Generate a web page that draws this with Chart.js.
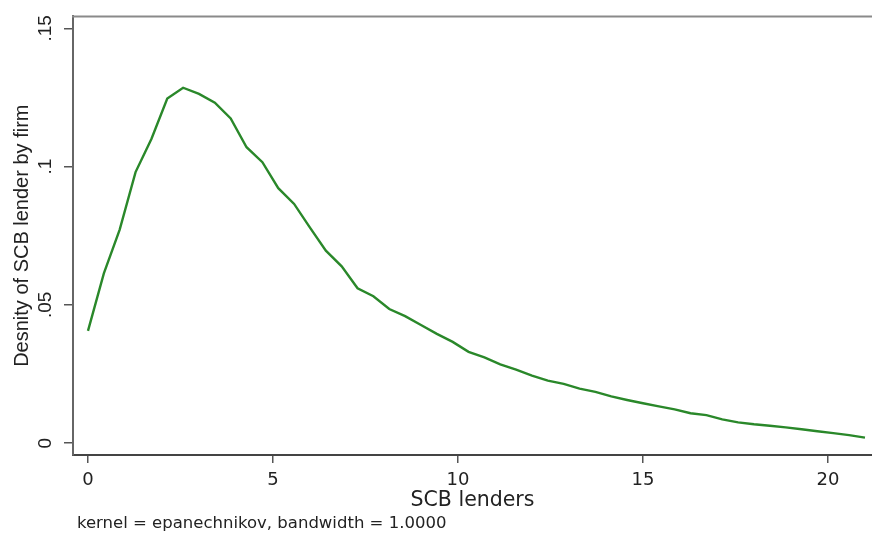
<!DOCTYPE html>
<html>
<head>
<meta charset="utf-8">
<script src="https://cdn.jsdelivr.net/npm/chart.js@4.4.1/dist/chart.umd.min.js"></script>
<style>
  html, body { margin: 0; padding: 0; background: #ffffff; }
  #wrap { width: 872px; height: 533px; }
</style>
</head>
<body>
<div id="wrap"><canvas id="kd" width="872" height="533"></canvas></div>
<script>
// Kernel density estimate of SCB lenders per firm (50 evaluation points)
const lenderGrid = [
  0.000, 0.429, 0.857, 1.286, 1.714, 2.143, 2.571, 3.000, 3.429, 3.857,
  4.286, 4.714, 5.143, 5.571, 6.000, 6.429, 6.857, 7.286, 7.714, 8.143,
  8.571, 9.000, 9.429, 9.857, 10.286, 10.714, 11.143, 11.571, 12.000, 12.429,
  12.857, 13.286, 13.714, 14.143, 14.571, 15.000, 15.429, 15.857, 16.286, 16.714,
  17.143, 17.571, 18.000, 18.429, 18.857, 19.286, 19.714, 20.143, 20.571, 21.000
];
const densityValues = [
  0.0406, 0.0614, 0.0772, 0.0980, 0.1100, 0.1246, 0.1285, 0.1263, 0.1231, 0.1174,
  0.1070, 0.1016, 0.0922, 0.0865, 0.0779, 0.0696, 0.0639, 0.0560, 0.0531, 0.0485,
  0.0459, 0.0427, 0.0395, 0.0366, 0.0330, 0.0310, 0.0285, 0.0266, 0.0244, 0.0226,
  0.0214, 0.0197, 0.0185, 0.0169, 0.0156, 0.0144, 0.0133, 0.0122, 0.0108, 0.0101,
  0.0086, 0.0075, 0.0068, 0.0063, 0.0057, 0.0050, 0.0043, 0.0036, 0.0029, 0.0020
];
const xTickValues = [0, 5, 10, 15, 20];
const xTickLabels = ['0', '5', '10', '15', '20'];
const yTickValues = [0, 0.05, 0.1, 0.15];
const yTickLabels = ['0', '.05', '.1', '.15'];

const xTitle = 'SCB lenders';
const yTitle = 'Desnity of SCB lender by firm';
const noteText = 'kernel = epanechnikov, bandwidth = 1.0000';

const points = lenderGrid.map((x, i) => ({ x: x, y: densityValues[i] }));

// outline along the top of the plot region and the kernel note under the x title
const framePlugin = {
  id: 'frameAndNote',
  afterDraw(chart) {
    const { ctx, chartArea } = chart;
    ctx.save();
    ctx.strokeStyle = '#8a8a8a';
    ctx.lineWidth = 2;
    ctx.beginPath();
    ctx.moveTo(chartArea.left - 1, chartArea.top);
    ctx.lineTo(chartArea.right, chartArea.top);
    ctx.stroke();

    ctx.fillStyle = '#222222';
    ctx.font = '16.5px "DejaVu Sans"';
    ctx.textAlign = 'left';
    ctx.textBaseline = 'middle';
    ctx.fillText(noteText, 77, 524);
    ctx.restore();
  }
};

new Chart(document.getElementById('kd'), {
  type: 'line',
  data: {
    datasets: [{
      data: points,
      borderColor: '#2a882a',
      borderWidth: 2.4,
      pointRadius: 0,
      tension: 0,
      fill: false
    }]
  },
  options: {
    responsive: false,
    animation: false,
    layout: { padding: { top: 13, right: 0, left: 0, bottom: 0 } },
    plugins: { legend: { display: false }, tooltip: { enabled: false } },
    scales: {
      x: {
        type: 'linear',
        min: -0.405,
        max: 21.19,
        afterFit(scale) { scale.height = 78; },
        afterBuildTicks(scale) { scale.ticks = xTickValues.map(v => ({ value: v })); },
        grid: { drawOnChartArea: false, drawTicks: true, tickLength: 8, color: '#555555', lineWidth: 1.5 },
        border: { display: true, color: '#444444', width: 2 },
        ticks: {
          autoSkip: false,
          maxRotation: 0,
          padding: 7,
          color: '#222222',
          font: { family: 'DejaVu Sans', size: 18 },
          callback: (v, i) => xTickLabels[i]
        },
        title: {
          display: true,
          text: xTitle,
          color: '#222222',
          font: { family: 'DejaVu Sans', size: 20.5 },
          padding: { top: 0, bottom: 20 }
        }
      },
      y: {
        type: 'linear',
        min: -0.0043,
        max: 0.1543,
        afterFit(scale) { scale.width = 73; },
        afterBuildTicks(scale) { scale.ticks = yTickValues.map(v => ({ value: v })); },
        grid: { drawOnChartArea: false, drawTicks: true, tickLength: 9, color: '#555555', lineWidth: 1.5 },
        border: { display: true, color: '#666666', width: 2 },
        ticks: {
          autoSkip: false,
          minRotation: 90,
          maxRotation: 90,
          crossAlign: 'center',
          padding: 5,
          color: '#222222',
          font: { family: 'Liberation Sans', size: 19 },
          callback: (v, i) => yTickLabels[i]
        },
        title: {
          display: true,
          text: yTitle,
          color: '#222222',
          font: { family: 'Liberation Sans', size: 20 },
          padding: { top: 10, bottom: 0 }
        }
      }
    }
  },
  plugins: [framePlugin]
});
</script>
</body>
</html>
